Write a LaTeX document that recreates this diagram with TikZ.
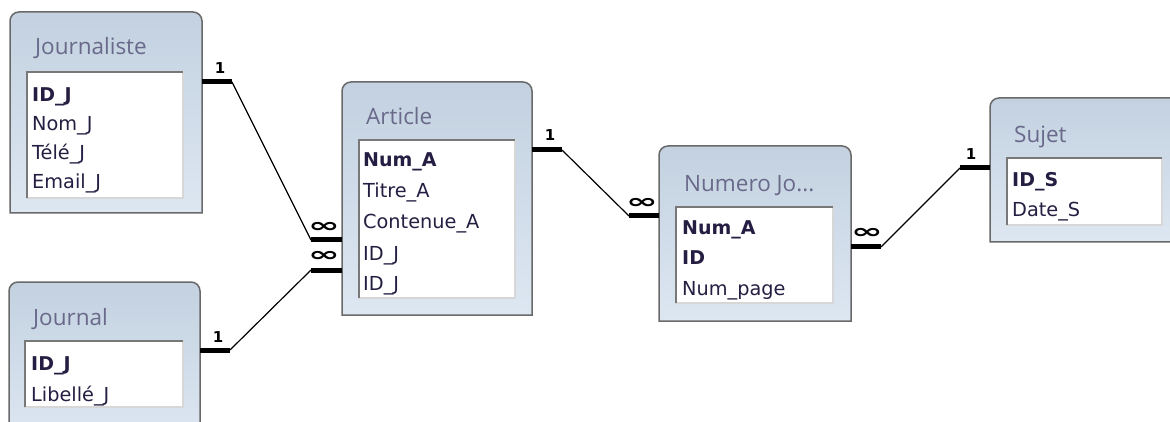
\documentclass[tikz,border=0pt]{standalone}
\usepackage{fontspec}
\setmainfont{DejaVu Sans}
\newfontfamily\titlefont{Open Sans}
\newfontfamily\fieldfont{DejaVu Sans}
\definecolor{boxtop}{RGB}{195,209,224}
\definecolor{boxbot}{RGB}{221,231,242}
\definecolor{boxline}{RGB}{105,105,105}
\definecolor{listdark}{RGB}{120,120,120}
\definecolor{listlight}{RGB}{215,215,215}
\definecolor{titlecol}{RGB}{105,105,138}
\definecolor{fieldcol}{RGB}{38,30,66}
\tikzset{
  boxshape/.style={draw=boxline, line width=1.5pt, top color=boxtop, bottom color=boxbot},
  listbox/.style={fill=white, draw=listlight, line width=1.2pt},
  listedge/.style={draw=listdark, line width=1.2pt},
  tabletitle/.style={anchor=base west, inner sep=0, text=titlecol, font=\titlefont\fontsize{22.5}{22.5}\selectfont},
  field/.style={anchor=base west, inner sep=0, text=fieldcol, font=\fieldfont\fontsize{19.3}{19.3}\selectfont},
  keyfield/.style={field, font=\fieldfont\bfseries\fontsize{19}{19}\selectfont},
  tablearea/.style={draw=none, inner sep=0},
  thickend/.style={line width=5pt, line cap=butt},
  thinlink/.style={line width=1.2pt},
  onelabel/.style={inner sep=0, font=\fieldfont\bfseries\fontsize{15}{15}\selectfont},
  manylabel/.style={inner sep=0, xscale=1.9, font=\fieldfont\bfseries\fontsize{20}{20}\selectfont},
}
\newcommand{\tablebox}[5]{%
  \path[boxshape] (#2,#5) [rounded corners=9pt] -- (#2,#3) -- (#4,#3) [sharp corners] -- (#4,#5) -- cycle;
  \node[tablearea, minimum width={#4-#2}, minimum height={#5-#3}] (#1) at ({(#2+#4)/2},{(#3+#5)/2}) {};
}
\newcommand{\fieldlist}[4]{%
  \path[listbox] (#1,#2) rectangle (#3,#4);
  \draw[listedge] (#1,#4) -- (#1,#2) -- (#3,#2);
}
\begin{document}
\begin{tikzpicture}[x=1pt,y=-1pt]
\useasboundingbox (0,0) rectangle (1170,422);
\clip (0,0) rectangle (1170,422);

% Journaliste
\tablebox{journaliste}{10}{12}{202}{213}
\fieldlist{27}{72}{183}{198}
\node[tabletitle] (tjournaliste) at (35,55) {Journaliste};
\node[keyfield] (fj1) at (32,102) {ID\_J};
\node[field] (fj2) at (32,131) {Nom\_J};
\node[field] (fj3) at (32,160) {Télé\_J};
\node[field] (fj4) at (32,189) {Email\_J};

% Journal
\tablebox{journal}{9}{282}{200}{440}
\fieldlist{25}{341}{183}{407}
\node[tabletitle] (tjournal) at (33,325) {Journal};
\node[keyfield] (fjo1) at (31,370) {ID\_J};
\node[field] (fjo2) at (31,401) {Libellé\_J};

% Article
\tablebox{article}{342}{82}{532}{315}
\fieldlist{359}{140}{515}{298}
\node[tabletitle] (tarticle) at (366,125) {Article};
\node[keyfield] (fa1) at (363,167) {Num\_A};
\node[field] (fa2) at (363,198) {Titre\_A};
\node[field] (fa3) at (363,229) {Contenue\_A};
\node[field] (fa4) at (363,260) {ID\_J};
\node[field] (fa5) at (363,290) {ID\_J};

% Numero Journal
\tablebox{numero}{659}{146}{851}{321}
\fieldlist{676}{207}{833}{303}
\node[tabletitle] (tnumero) at (684,192) {Numero Jo...};
\node[keyfield] (fn1) at (682,235) {Num\_A};
\node[keyfield] (fn2) at (682,265) {ID};
\node[field] (fn3) at (682,295) {Num\_page};

% Sujet
\tablebox{sujet}{990}{98}{1190}{242}
\fieldlist{1007}{158}{1162}{225}
\node[tabletitle] (tsujet) at (1014,143) {Sujet};
\node[keyfield] (fs1) at (1012,187) {ID\_S};
\node[field] (fs2) at (1012,217) {Date\_S};

% connector end points
\coordinate (r1a) at (journaliste.east |- 0,82);
\coordinate (r1b) at (232,82);
\coordinate (r1c) at (311,240);
\coordinate (r1d) at (article.west |- 0,240);

\coordinate (r2a) at (journal.east |- 0,350);
\coordinate (r2b) at (230,350);
\coordinate (r2c) at (311,270);
\coordinate (r2d) at (article.west |- 0,270);

\coordinate (r3a) at (article.east |- 0,150);
\coordinate (r3b) at (562,150);
\coordinate (r3c) at (629,216);
\coordinate (r3d) at (numero.west |- 0,216);

\coordinate (r4a) at (numero.east |- 0,247);
\coordinate (r4b) at (881,247);
\coordinate (r4c) at (960,168);
\coordinate (r4d) at (sujet.west |- 0,168);

\foreach \r in {r1,r2,r3,r4}{
  \draw[thickend] (\r a) -- (\r b);
  \draw[thinlink] (\r b) -- (\r c);
  \draw[thickend] (\r c) -- (\r d);
}

% cardinality labels
\node[onelabel] (l1) at (220,68) {1};
\node[manylabel] (m1) at (324,227) {∞};
\node[onelabel] (l2) at (218,337) {1};
\node[manylabel] (m2) at (324,256) {∞};
\node[onelabel] (l3) at (550,135) {1};
\node[manylabel] (m3) at (642,203) {∞};
\node[manylabel] (m4) at (867,233) {∞};
\node[onelabel] (l4) at (971,154) {1};
\end{tikzpicture}
\end{document}
